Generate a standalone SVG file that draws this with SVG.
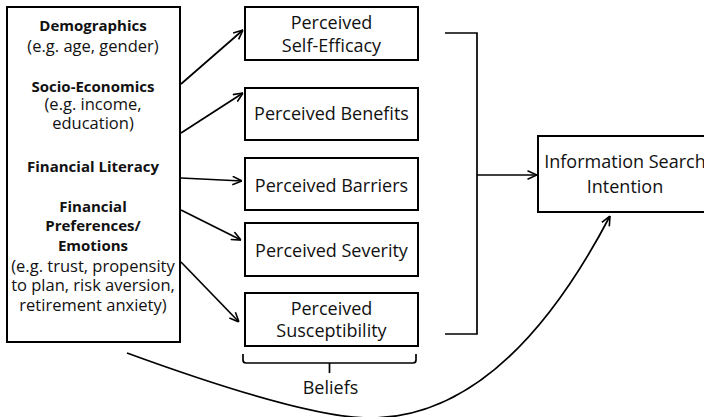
<svg xmlns="http://www.w3.org/2000/svg" width="704" height="417" viewBox="0 0 704 417">
<defs>
<marker id="arr" viewBox="0 0 10 10" refX="10" refY="5" markerWidth="10" markerHeight="10" orient="auto" markerUnits="userSpaceOnUse">
<path d="M0.5,0.8 L10,5 L0.5,9.2" fill="none" stroke="#000" stroke-width="1.6"/>
</marker>
<style>
.box{fill:#fff;stroke:#000;stroke-width:2}
.ln{fill:none;stroke:#000;stroke-width:1.7}
.t{font-family:"Open Sans","Noto Sans",sans-serif;font-size:16.5px;fill:#111;text-anchor:middle}
.b{font-weight:bold;font-size:15px}
.p{font-size:18px}
</style>
</defs>
<rect width="704" height="417" fill="#fff"/>
<g id="connectors">
<line class="ln" x1="181" y1="84" x2="243" y2="30" marker-end="url(#arr)"/>
<line class="ln" x1="181" y1="133" x2="243" y2="93" marker-end="url(#arr)"/>
<line class="ln" x1="181" y1="178" x2="242" y2="181" marker-end="url(#arr)"/>
<line class="ln" x1="181" y1="210" x2="241" y2="240" marker-end="url(#arr)"/>
<line class="ln" x1="181" y1="262" x2="239" y2="322" marker-end="url(#arr)"/>
<path class="ln" d="M445,33 H477 V334 H445"/>
<line class="ln" x1="477" y1="175" x2="537" y2="175" marker-end="url(#arr)"/>
<path class="ln" d="M127,353 Q305,418 370,418 Q504,418 610,216" marker-end="url(#arr)"/>
</g>
<g id="factors">
<rect class="box" x="7" y="7" width="173" height="335"/>
<text class="t b" x="93" y="30.5">Demographics</text>
<text class="t" x="93" y="51.5">(e.g. age, gender)</text>
<text class="t b" x="93" y="92">Socio-Economics</text>
<text class="t" x="93" y="110">(e.g. income,</text>
<text class="t" x="93" y="129">education)</text>
<text class="t b" x="93" y="171.5">Financial Literacy</text>
<text class="t b" x="93" y="211.5">Financial</text>
<text class="t b" x="93" y="231">Preferences/</text>
<text class="t b" x="93" y="250.5">Emotions</text>
<text class="t" x="93" y="271.5">(e.g. trust, propensity</text>
<text class="t" x="93" y="291">to plan, risk aversion,</text>
<text class="t" x="93" y="311">retirement anxiety)</text>
</g>
<g id="self-efficacy">
<rect class="box" x="245" y="7" width="173" height="53"/>
<text class="t p" x="331.5" y="29">Perceived</text>
<text class="t p" x="331.5" y="52">Self-Efficacy</text>
</g>
<g id="benefits">
<rect class="box" x="245" y="88" width="173" height="52"/>
<text class="t p" x="331.5" y="120">Perceived Benefits</text>
</g>
<g id="barriers">
<rect class="box" x="245" y="158" width="173" height="52"/>
<text class="t p" x="331.5" y="192">Perceived Barriers</text>
</g>
<g id="severity">
<rect class="box" x="245" y="223" width="173" height="53"/>
<text class="t p" x="331.5" y="257">Perceived Severity</text>
</g>
<g id="susceptibility">
<rect class="box" x="245" y="293" width="173" height="53"/>
<text class="t p" x="331.5" y="315">Perceived</text>
<text class="t p" x="331.5" y="337">Susceptibility</text>
</g>
<g id="beliefs">
<path class="ln" d="M243,354 V360 Q243,363 246,363 H413 Q416,363 416,360 V354 M329.5,363 V373"/>
<text class="t p" x="330.5" y="394">Beliefs</text>
</g>
<g id="intention">
<rect class="box" x="538" y="136" width="180" height="76"/>
<text class="t p" x="625" y="168">Information Search</text>
<text class="t p" x="625" y="193">Intention</text>
</g>
</svg>
